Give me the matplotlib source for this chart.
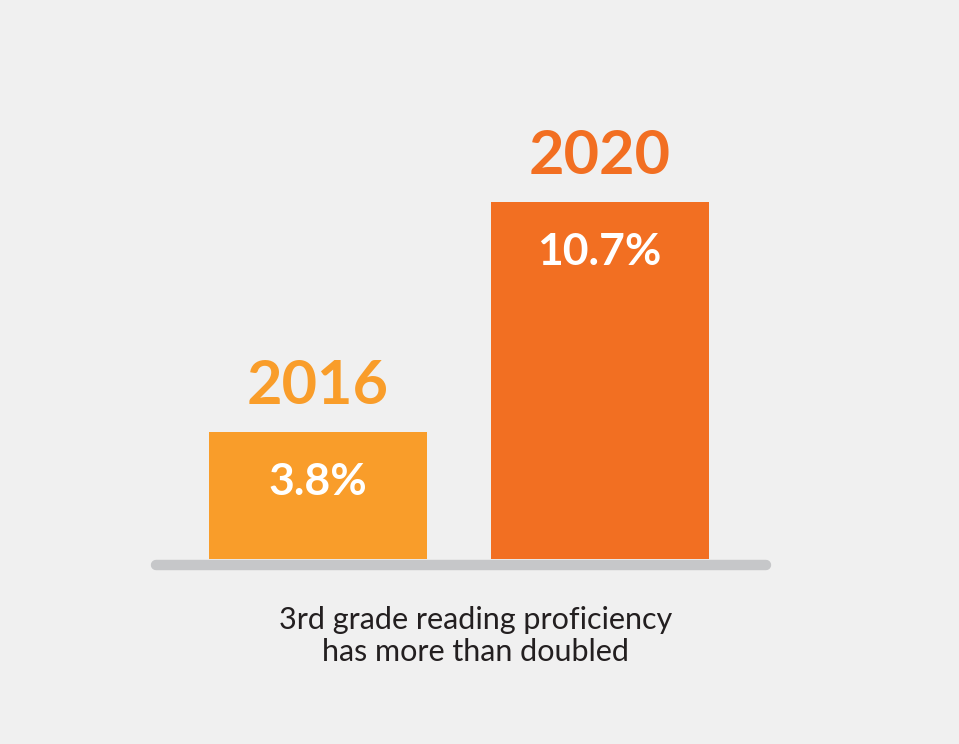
import matplotlib.pyplot as plt

years = ["2016", "2020"]
values = [3.8, 10.7]
bar_colors = ["#f99d2a", "#f26f22"]
caption = "3rd grade reading proficiency\nhas more than doubled"

plt.rcParams["font.family"] = ["Lato", "DejaVu Sans"]

W, H = 959, 744
fig = plt.figure(figsize=(W / 100, H / 100), dpi=100, facecolor="#f0f0f0")

# axes placed in pixels: baseline from x=151 to 771, bar bottoms at y=559
left_px, right_px = 151, 771
bottom_px, top_px = 559, 100
ax = fig.add_axes([left_px / W, (H - bottom_px) / H,
                   (right_px - left_px) / W, (bottom_px - top_px) / H])
ax.set_facecolor("none")
ax.axis("off")

step = 281.5  # px between bar centres
x0 = (318 - left_px) / step
xs = [x0 + i for i in range(len(years))]
ax.set_xlim(0, (right_px - left_px) / step)
px_per_unit = 357 / max(values)
ax.set_ylim(0, (bottom_px - top_px) / px_per_unit)

ax.bar(xs, values, width=218 / step, color=bar_colors, zorder=2)

# grey baseline with rounded ends
pad = 5 / step
ax.plot([pad, (right_px - left_px) / step - pad], [-6 / px_per_unit] * 2,
        color="#c6c7c9", lw=7.5, solid_capstyle="round", clip_on=False, zorder=1)

for x, v, yr, c in zip(xs, values, years, bar_colors):
    ax.annotate(yr, (x, v), xytext=(0, 33), textcoords="offset points",
                ha="center", va="center", fontsize=44, fontweight="bold", color=c)
    ax.annotate(f"{v:.1f}%", (x, v), xytext=(0, -36), textcoords="offset points",
                ha="center", va="center", fontsize=32, fontweight="bold", color="white")

fig.text(476 / W, 1 - 636 / H, caption, ha="center", va="center",
         fontsize=22, color="#231f20", linespacing=1.15)

fig.savefig("out.png", dpi=100, facecolor=fig.get_facecolor())
